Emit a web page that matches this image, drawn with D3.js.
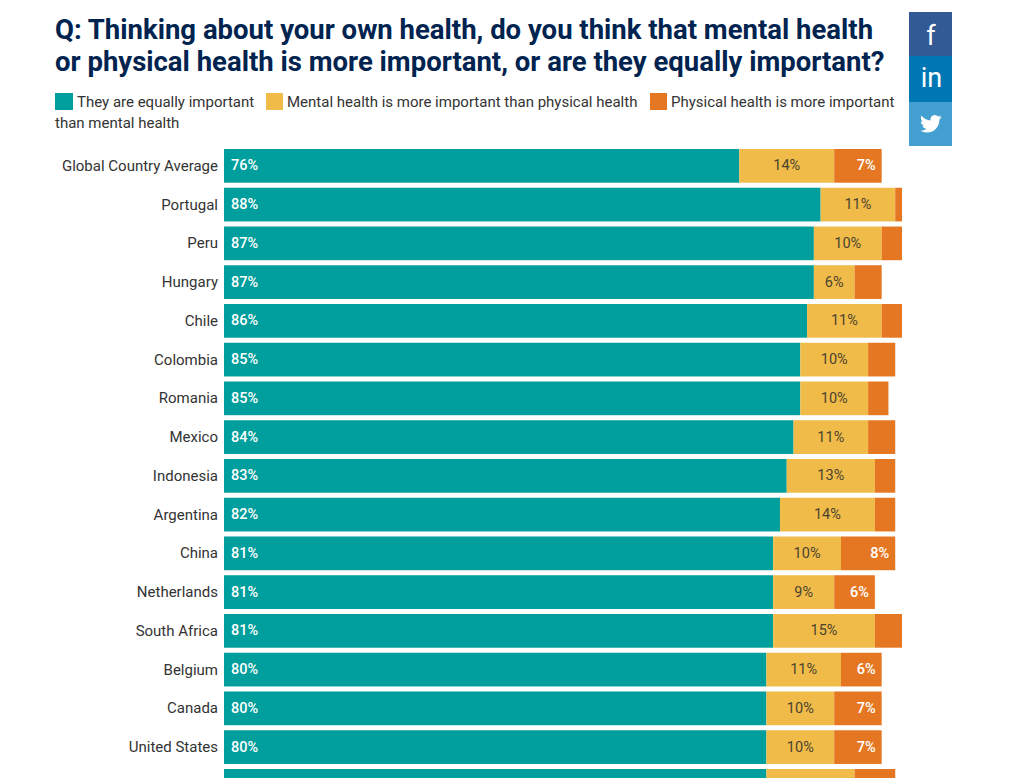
<!DOCTYPE html>
<html><head><meta charset="utf-8">
<script src="https://cdn.jsdelivr.net/npm/d3@7/dist/d3.min.js"></script>
<style>html,body{margin:0;padding:0;background:#fff;overflow:hidden}svg{display:block}text{font-family:Roboto,sans-serif}</style>
</head><body><div id="chart"></div>
<script>
const titleLines = ["Q: Thinking about your own health, do you think that mental health","or physical health is more important, or are they equally important?"];
const seriesNames = ["They are equally important","Mental health is more important than physical health","Physical health is more important"];
const legendWrap = "than mental health";
const seriesColors = ["#009e9c","#f0bb48","#e67722"];
const categories = ["Global Country Average","Portugal","Peru","Hungary","Chile","Colombia","Romania","Mexico","Indonesia","Argentina","China","Netherlands","South Africa","Belgium","Canada","United States",""];
const equally  = [76,88,87,87,86,85,85,84,83,82,81,81,81,80,80,80,80];
const mental   = [14,11,10,6,11,10,10,11,13,14,10,9,15,11,10,10,13];
const physical = [7,1,3,4,3,4,3,4,3,3,8,6,4,6,7,7,6];
const socialColors = ["#325a94","#0077b5","#429fcf"];

const svg = d3.select("#chart").append("svg").attr("width",1025).attr("height",778);
const x = d3.scaleLinear().domain([0,100]).range([224,902]);
const y = d3.scaleBand().domain(categories.map((c,i)=>i)).range([149,149+38.75*16.87]).paddingInner(0.13).paddingOuter(0);

svg.selectAll("text.title").data(titleLines).join("text").attr("class","title")
  .attr("x",55).attr("y",(d,i)=>39+i*32).attr("font-size",27.5).attr("font-weight",700).attr("fill","#00234f").text(d=>d);

const legendX=[55,266,650], legendTextX=[77,287,671];
svg.selectAll("rect.sw").data(seriesColors).join("rect").attr("class","sw")
  .attr("x",(d,i)=>legendX[i]).attr("y",93).attr("width",(d,i)=>i?17:18).attr("height",17).attr("fill",d=>d);
svg.selectAll("text.leg").data(seriesNames).join("text").attr("class","leg")
  .attr("x",(d,i)=>legendTextX[i]).attr("y",107).attr("font-size",15).attr("fill","#333").text(d=>d);
svg.append("text").attr("x",55).attr("y",128).attr("font-size",15).attr("fill","#333").text(legendWrap);

const rows = categories.map((c,i)=>({c,i,v:[equally[i],mental[i],physical[i]]}));
const g = svg.selectAll("g.row").data(rows).join("g").attr("class","row");
const labelled = g.filter(d=>d.c!=="");
labelled.append("text").attr("x",218).attr("y",d=>y(d.i)+y.bandwidth()/2+5).attr("text-anchor","end")
  .attr("font-size",15).attr("fill","#333").text(d=>d.c);
[0,1,2].forEach(s=>{
  g.append("rect")
   .attr("x",d=>x(d3.sum(d.v.slice(0,s))))
   .attr("y",d=>y(d.i)).attr("height",y.bandwidth())
   .attr("width",d=>x(d3.sum(d.v.slice(0,s+1)))-x(d3.sum(d.v.slice(0,s))))
   .attr("fill",seriesColors[s]);
});
labelled.append("text").attr("x",231).attr("y",d=>y(d.i)+y.bandwidth()/2+4.5).attr("font-size",14.5).attr("font-weight",500).attr("fill","#fff").text(d=>d.v[0]+"%");
labelled.append("text").attr("x",d=>x(d.v[0]+d.v[1]/2)).attr("y",d=>y(d.i)+y.bandwidth()/2+4.5).attr("text-anchor","middle")
  .attr("font-size",14.5).attr("fill","#4a4330").text(d=>d.v[1]+"%");
labelled.filter(d=>d.v[2]>=6).append("text").attr("x",d=>x(d3.sum(d.v))-6).attr("y",d=>y(d.i)+y.bandwidth()/2+4.5).attr("text-anchor","end")
  .attr("font-size",14.5).attr("font-weight",500).attr("fill","#fff").text(d=>d.v[2]+"%");

const socialY=[12,56,102], socialH=[44,46,44];
svg.selectAll("rect.soc").data(socialColors).join("rect").attr("class","soc")
  .attr("x",909).attr("y",(d,i)=>socialY[i]).attr("width",43).attr("height",(d,i)=>socialH[i]).attr("fill",d=>d);
svg.append("text").attr("x",931).attr("y",45).attr("text-anchor","middle").attr("font-size",27).attr("fill","#fff").text("f");
svg.append("text").attr("x",931.5).attr("y",87).attr("text-anchor","middle").attr("font-size",27).attr("fill","#fff").text("in");
svg.append("path").attr("transform","translate(920,113) scale(0.9)").attr("fill","#fff")
  .attr("d","M23.953 4.57a10 10 0 01-2.825.775 4.958 4.958 0 002.163-2.723c-.951.555-2.005.959-3.127 1.184a4.92 4.92 0 00-8.384 4.482C7.69 8.095 4.067 6.13 1.64 3.162a4.822 4.822 0 00-.666 2.475c0 1.71.87 3.213 2.188 4.096a4.904 4.904 0 01-2.228-.616v.06a4.923 4.923 0 003.946 4.827 4.996 4.996 0 01-2.212.085 4.936 4.936 0 004.604 3.417 9.867 9.867 0 01-6.102 2.105c-.39 0-.779-.023-1.17-.067a13.995 13.995 0 007.557 2.209c9.053 0 13.998-7.496 13.998-13.985 0-.21 0-.42-.015-.63A9.935 9.935 0 0024 4.59z");
</script></body></html>
